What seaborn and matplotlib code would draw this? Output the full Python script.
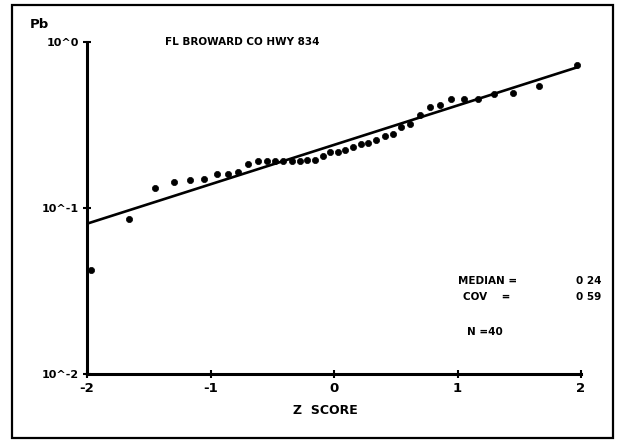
import matplotlib
matplotlib.use("Agg")
import matplotlib.pyplot as plt
import seaborn as sns
import numpy as np
import pandas as pd
from matplotlib.patches import Rectangle
from matplotlib.ticker import LogLocator, NullFormatter

# ---- data ----
z_scores = [-1.971, -1.657, -1.452, -1.296, -1.165, -1.052, -0.951, -0.859, -0.774, -0.694,
            -0.618, -0.546, -0.476, -0.409, -0.343, -0.279, -0.216, -0.153, -0.092, -0.031,
            0.031, 0.092, 0.153, 0.216, 0.279, 0.343, 0.409, 0.476, 0.546, 0.618,
            0.694, 0.774, 0.859, 0.951, 1.052, 1.165, 1.296, 1.452, 1.657, 1.971]
pb_values = [0.0424, 0.0859, 0.132, 0.144, 0.148, 0.150, 0.160, 0.160, 0.165, 0.184,
             0.192, 0.192, 0.192, 0.192, 0.192, 0.192, 0.1945, 0.1945, 0.206, 0.217,
             0.217, 0.223, 0.233, 0.243, 0.246, 0.257, 0.272, 0.279, 0.308, 0.321,
             0.363, 0.405, 0.417, 0.454, 0.454, 0.452, 0.486, 0.493, 0.543, 0.726]
median_value = 0.24
cov_value = 0.59
n_value = 40
x_ticks = [-2, -1, 0, 1, 2]
x_tick_labels = ["-2", "-1", "0", "1", "2"]
y_ticks = [0.01, 0.1, 1.0]
y_tick_labels = ["10^-2", "10^-1", "10^0"]
title_text = "FL BROWARD CO HWY 834"
x_label = "Z  SCORE"
y_label = "Pb"
median_label = "MEDIAN ="
cov_label = "COV    ="
median_text = "0 24"
cov_text = "0 59"
n_text = "N =40"

df = pd.DataFrame({"z": z_scores, "pb": pb_values})

# fitted lognormal line from median and COV
sigma10 = np.sqrt(np.log(1 + cov_value ** 2)) / np.log(10)
z_line = np.array([-2.0, 1.97])
fit = pd.DataFrame({"z": z_line, "pb": 10 ** (np.log10(median_value) + sigma10 * z_line)})

sns.set_style("white")
FAM = ["DejaVu Sans"]
plt.rcParams["font.family"] = FAM

W, H = 621, 445
fig = plt.figure(figsize=(W / 100, H / 100), dpi=100)
ax = fig.add_axes([87 / W, 71 / H, 494 / W, 332 / H])

sns.lineplot(data=fit, x="z", y="pb", ax=ax, color="black", linewidth=1.9)
sns.scatterplot(data=df, x="z", y="pb", ax=ax, color="black", s=20, edgecolor="black",
                linewidth=0.5, zorder=5, clip_on=False)

ax.set_yscale("log")
ax.set_xlim(-2, 2)
ax.set_ylim(0.01, 1.0)

ax.set_xticks(x_ticks)
ax.set_xticklabels(x_tick_labels, fontsize=9.5, fontweight="bold")
ax.set_yticks(y_ticks)
ax.set_yticklabels(y_tick_labels, fontsize=8, fontweight="bold")
ax.yaxis.set_minor_locator(LogLocator(base=10, subs=np.arange(2, 10)))
ax.yaxis.set_minor_formatter(NullFormatter())
ax.tick_params(axis="both", which="major", direction="inout", length=6, width=1.5,
               color="black", labelcolor="black", pad=3)
ax.tick_params(axis="y", which="minor", direction="inout", length=4, width=1.5, color="black")
ax.tick_params(left=True, bottom=True)

for side in ["top", "right"]:
    ax.spines[side].set_visible(False)
for side in ["left", "bottom"]:
    ax.spines[side].set_color("black")
    ax.spines[side].set_linewidth(2.2)

ax.set_xlabel("")
ax.set_ylabel("")


def label(x_px, y_px, s, fs, ha="left"):
    return fig.text(x_px / W, 1 - y_px / H, s, fontsize=fs, fontweight="bold",
                    ha=ha, va="center", color="black")


label(30, 24, y_label, 9.5)
label(165, 42, title_text, 7.5)
label(458, 281, median_label, 7.5)
label(601, 281, median_text, 7.5, ha="right")
label(463, 297, cov_label, 7.5)
label(601, 297, cov_text, 7.5, ha="right")
label(467, 332, n_text, 7.5)
label(325, 411, x_label, 9, ha="center")

# outer frame
fig.patches.append(Rectangle((12 / W, 1 - 438 / H), 601 / W, 433 / H,
                             transform=fig.transFigure, fill=False, edgecolor="black",
                             linewidth=1.6))

fig.savefig("out.png", dpi=100)
